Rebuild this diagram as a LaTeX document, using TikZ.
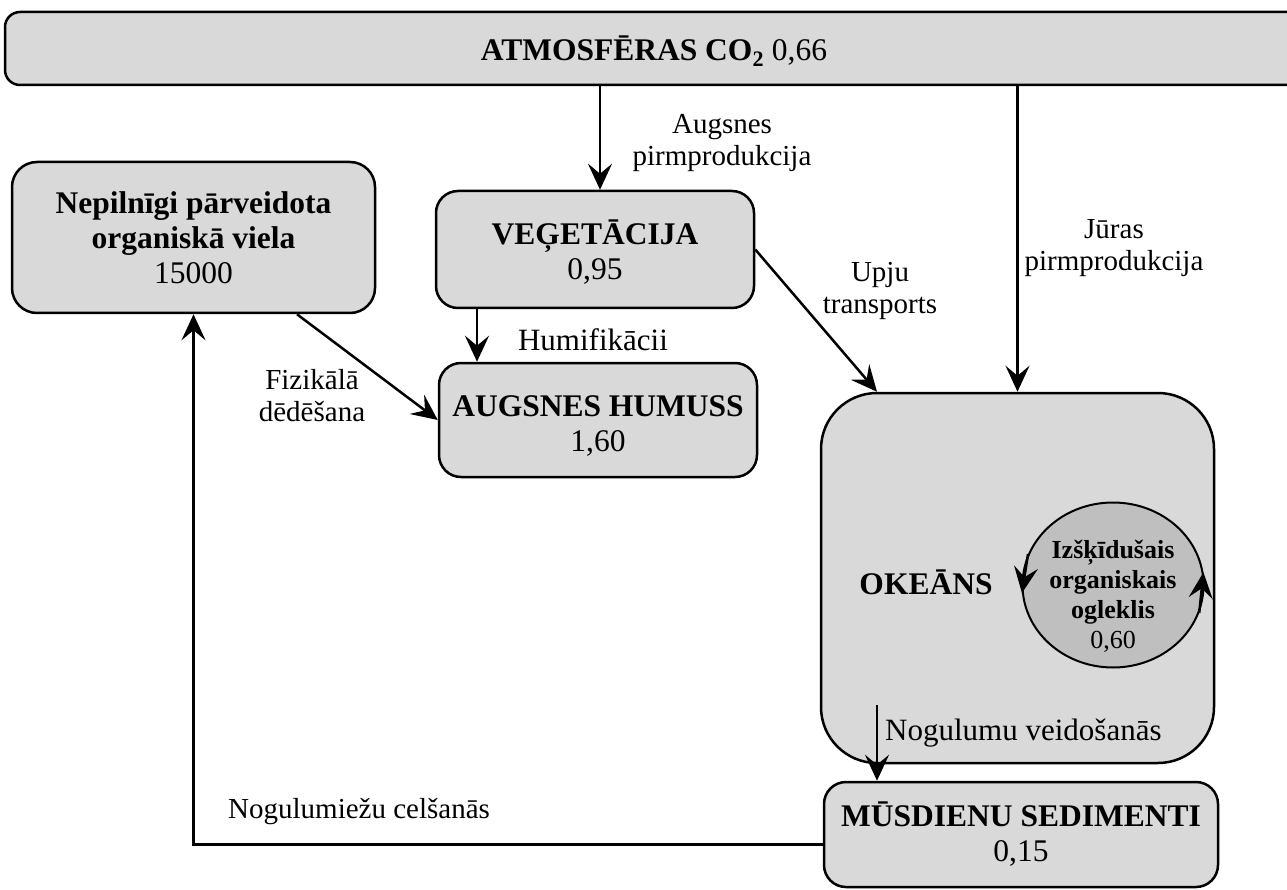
\documentclass[tikz,border=0pt]{standalone}
\usepackage{fontspec}
\setmainfont{Liberation Serif}
\usetikzlibrary{arrows.meta,shapes.geometric}
\definecolor{boxgray}{RGB}{217,217,217}
\definecolor{circgray}{RGB}{191,191,191}
\newcommand{\lowered}[2]{\raisebox{#1}[\height][\depth]{\begin{tabular}{@{}c@{}}#2\end{tabular}}}
\begin{document}
\begin{tikzpicture}[x=1pt,y=-1pt,
  box/.style={draw, line width=2.5pt, fill=boxgray, rounded corners=22pt, align=center, inner sep=0pt, font=\fontsize{31.5}{35}\selectfont},
  lbl/.style={align=center, inner sep=0pt, font=\fontsize{29}{32}\selectfont},
  biglbl/.style={lbl, font=\fontsize{31}{34}\selectfont},
  arr/.style={line width=2.5pt, -{Stealth[length=26pt,width=24pt,inset=10pt]}}]
\useasboundingbox (0,0) rectangle (1287,890);
\clip (0,0) rectangle (1287,890);

% boxes
\node[box, rounded corners=15pt, minimum width=1298pt, minimum height=73pt] (atm) at (654,48.5) {\lowered{-5pt}{\textbf{ATMOSFĒRAS CO\textsubscript{2}} 0,66}};
\node[box, rounded corners=25pt, minimum width=363pt, minimum height=151pt] (nep) at (193.5,237.5) {\textbf{Nepilnīgi pārveidota}\\\textbf{organiskā viela}\\15000};
\node[box, minimum width=318pt, minimum height=117pt] (veg) at (595,249.5) {\lowered{-5pt}{\textbf{VEĢETĀCIJA}\\0,95}};
\node[box, minimum width=318pt, minimum height=114pt] (hum) at (598,420) {\lowered{-7pt}{\textbf{AUGSNES HUMUSS}\\1,60}};
\node[box, rounded corners=56pt, minimum width=393pt, minimum height=370pt] (ocean) at (1017.5,578) {};
\node[inner sep=0pt, font=\bfseries\fontsize{31.5}{35}\selectfont] (okeans) at (926,582) {OKEĀNS};
\node[draw, ellipse, line width=2pt, fill=circgray, minimum width=181pt, minimum height=165pt, inner sep=0pt] (circ) at (1113,585) {};
\node[align=center, inner sep=0pt, font=\fontsize{26}{30}\selectfont] (circtext) at (1113,596) {\textbf{Izšķīdušais}\\\textbf{organiskais}\\\textbf{ogleklis}\\0,60};
\node[box, minimum width=394pt, minimum height=105pt] (sed) at (1021,834.5) {\textbf{MŪSDIENU SEDIMENTI}\\0,15};

% labels
\node[lbl] (l1) at (722,143) {Augsnes\\pirmprodukcija};
\node[lbl] (l2) at (1114,248) {Jūras\\pirmprodukcija};
\node[lbl] (l3) at (880,291) {Upju\\transports};
\node[biglbl] (l4) at (593,340) {Humifikācii};
\node[lbl] (l5) at (312,396) {Fizikālā\\dēdēšana};
\node[biglbl, anchor=west] (l6) at (885,733) {Nogulumu veidošanās};
\node[lbl, anchor=west] (l7) at (228,812) {Nogulumiežu celšanās};

% connectors
\draw[arr] ([xshift=5pt]veg.north |- atm.south) -- ([xshift=5pt]veg.north);
\draw[arr] (ocean.north |- atm.south) -- (ocean.north);
\draw[arr] ([xshift=-118pt]veg.south) -- ([xshift=-118pt]veg.south |- hum.north);
\draw[arr] ([xshift=103.5pt]nep.south) -- (hum.west);
\draw[arr] (veg.east) -- ([xshift=-140.5pt]ocean.north);
\coordinate (ocbot) at (877,705);
\draw[arr] (ocbot) -- (ocbot |- sed.north);
\draw[arr] ([yshift=-10pt]sed.west) -| (nep.south);

% circulation arrows on the circle
\draw[arr] (circ.160) -- (circ.185);
\draw[arr] (circ.-18) -- (circ.8);
\end{tikzpicture}
\end{document}
